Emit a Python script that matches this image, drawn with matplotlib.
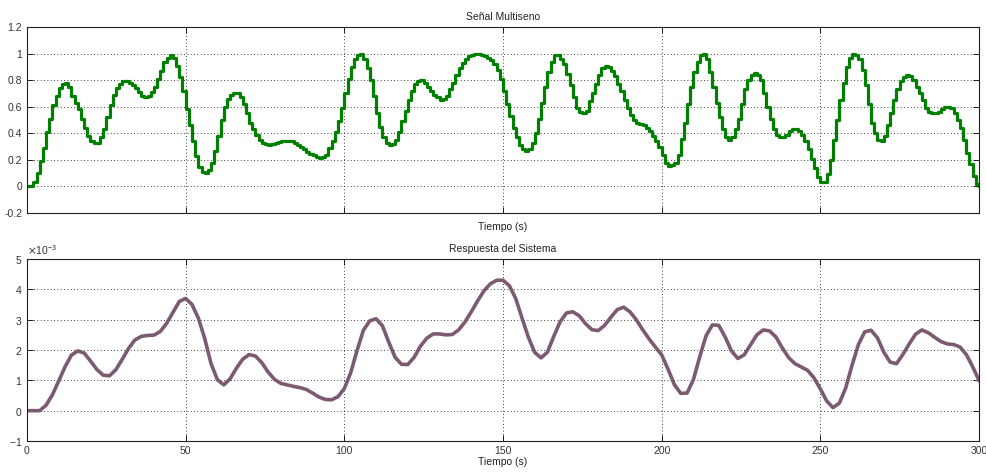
import numpy as np
import matplotlib
matplotlib.use("Agg")
import matplotlib.pyplot as plt
from matplotlib.ticker import ScalarFormatter, FormatStrFormatter

# ---- data ----
# Multisine input, sampled every 1 s (t = 0..300), zero-order hold
u_signal = [
    0.00, 0.00, 0.03, 0.10, 0.19, 0.29, 0.41, 0.51, 0.61, 0.68,
    0.74, 0.77, 0.78, 0.75, 0.68, 0.63, 0.58, 0.51, 0.44, 0.38,
    0.34, 0.325, 0.33, 0.37, 0.43, 0.52, 0.61, 0.69, 0.74, 0.77,
    0.79, 0.79, 0.78, 0.76, 0.74, 0.71, 0.68, 0.67, 0.68, 0.71,
    0.75, 0.81, 0.87, 0.94, 0.97, 0.99, 0.97, 0.91, 0.82, 0.72,
    0.58, 0.46, 0.34, 0.23, 0.15, 0.11, 0.10, 0.12, 0.18, 0.27,
    0.38, 0.50, 0.60, 0.66, 0.69, 0.70, 0.70, 0.67, 0.62, 0.55,
    0.48, 0.43, 0.39, 0.35, 0.33, 0.32, 0.315, 0.32, 0.33, 0.335,
    0.34, 0.345, 0.345, 0.34, 0.33, 0.315, 0.30, 0.28, 0.26, 0.245,
    0.235, 0.22, 0.215, 0.22, 0.24, 0.29, 0.34, 0.41, 0.49, 0.59,
    0.70, 0.81, 0.90, 0.96, 0.99, 1.00, 0.96, 0.89, 0.80, 0.68,
    0.55, 0.45, 0.37, 0.33, 0.31, 0.32, 0.35, 0.41, 0.49, 0.57,
    0.65, 0.72, 0.77, 0.79, 0.80, 0.78, 0.75, 0.72, 0.69, 0.67,
    0.65, 0.66, 0.68, 0.73, 0.78, 0.84, 0.89, 0.93, 0.96, 0.98,
    0.99, 1.00, 1.00, 0.99, 0.98, 0.97, 0.95, 0.92, 0.88, 0.81,
    0.72, 0.62, 0.53, 0.44, 0.37, 0.31, 0.28, 0.27, 0.28, 0.33,
    0.40, 0.51, 0.63, 0.75, 0.86, 0.94, 0.99, 0.99, 0.96, 0.92,
    0.85, 0.76, 0.67, 0.59, 0.56, 0.55, 0.57, 0.64, 0.70, 0.77,
    0.84, 0.89, 0.91, 0.90, 0.87, 0.83, 0.77, 0.72, 0.65, 0.59,
    0.54, 0.50, 0.48, 0.47, 0.46, 0.44, 0.42, 0.38, 0.34, 0.30,
    0.24, 0.18, 0.155, 0.16, 0.18, 0.24, 0.36, 0.48, 0.62, 0.75,
    0.86, 0.94, 0.99, 1.00, 0.96, 0.86, 0.75, 0.63, 0.52, 0.43,
    0.37, 0.35, 0.37, 0.43, 0.51, 0.62, 0.73, 0.80, 0.84, 0.855,
    0.84, 0.80, 0.70, 0.60, 0.51, 0.43, 0.39, 0.37, 0.37, 0.39,
    0.42, 0.435, 0.43, 0.42, 0.39, 0.34, 0.28, 0.21, 0.14, 0.07,
    0.03, 0.03, 0.09, 0.20, 0.35, 0.50, 0.65, 0.78, 0.90, 0.97,
    1.00, 0.99, 0.96, 0.88, 0.76, 0.62, 0.48, 0.40, 0.35, 0.34,
    0.38, 0.46, 0.55, 0.65, 0.73, 0.79, 0.82, 0.835, 0.83, 0.80,
    0.75, 0.70, 0.65, 0.59, 0.56, 0.55, 0.55, 0.56, 0.58, 0.60,
    0.60, 0.59, 0.55, 0.50, 0.44, 0.35, 0.25, 0.17, 0.08, 0.02,
    0.00,
]

# System response (x 1e-3), sampled every 2 s (t = 0..300)
y_resp_e3 = [
    0.00, 0.00, 0.00, 0.18, 0.52, 0.98, 1.45, 1.83, 1.97, 1.90,
    1.64, 1.36, 1.17, 1.15, 1.35, 1.69, 2.05, 2.33, 2.45, 2.48,
    2.49, 2.61, 2.88, 3.24, 3.60, 3.70, 3.50, 3.05, 2.38, 1.55,
    1.02, 0.85, 1.05, 1.40, 1.70, 1.85, 1.80, 1.58, 1.27, 1.03,
    0.90, 0.85, 0.80, 0.76, 0.70, 0.58, 0.45, 0.37, 0.36, 0.46,
    0.73, 1.25, 1.98, 2.65, 2.96, 3.03, 2.80, 2.26, 1.76, 1.53,
    1.52, 1.76, 2.13, 2.39, 2.53, 2.53, 2.50, 2.51, 2.66, 2.92,
    3.26, 3.62, 3.95, 4.18, 4.30, 4.30, 4.12, 3.70, 3.05, 2.42,
    1.92, 1.74, 1.93, 2.45, 2.93, 3.22, 3.26, 3.13, 2.87, 2.67,
    2.64, 2.81, 3.08, 3.33, 3.41, 3.26, 3.00, 2.67, 2.37, 2.10,
    1.84, 1.37, 0.86, 0.57, 0.58, 1.02, 1.78, 2.47, 2.83, 2.81,
    2.43, 1.97, 1.72, 1.84, 2.17, 2.50, 2.66, 2.63, 2.43, 2.07,
    1.75, 1.55, 1.44, 1.33, 1.08, 0.72, 0.32, 0.10, 0.25, 0.75,
    1.50, 2.18, 2.60, 2.65, 2.40, 1.93, 1.60, 1.55, 1.85, 2.20,
    2.52, 2.66, 2.57, 2.42, 2.28, 2.20, 2.18, 2.10, 1.85, 1.45,
    1.00,
]

t_signal = np.arange(len(u_signal)) * 1.0
t_resp = np.arange(len(y_resp_e3)) * 2.0
y_resp = np.array(y_resp_e3) * 1e-3

top_title = "Señal Multiseno"
bot_title = "Respuesta del Sistema"
x_label = "Tiempo (s)"
x_ticks = [0, 50, 100, 150, 200, 250, 300]
top_yticks = [-0.2, 0, 0.2, 0.4, 0.6, 0.8, 1, 1.2]
bot_yticks = [-1e-3, 0, 1e-3, 2e-3, 3e-3, 4e-3, 5e-3]

# ---- figure ----
plt.rcParams['font.family'] = ['Liberation Sans', 'DejaVu Sans']
fig = plt.figure(figsize=(9.87, 4.72), dpi=100)
ax1 = fig.add_axes([27/987, 1-213/472, (979-27)/987, (213-27)/472])
ax2 = fig.add_axes([27/987, 1-441/472, (979-27)/987, (441-259)/472])

fs = 7.5
tick_col = '#333333'

def style(ax):
    ax.grid(True, linestyle=(0, (1, 3)), color='black', linewidth=0.6)
    ax.tick_params(direction='in', top=True, right=True, labelsize=fs,
                   colors='black', labelcolor=tick_col, length=4, width=0.6)
    for s in ax.spines.values():
        s.set_linewidth(0.8)
        s.set_color('#222222')

ax1.step(t_signal, u_signal, where='post', color='#008000', linewidth=2.3)
ax1.set_xlim(0, 300)
ax1.set_ylim(-0.2, 1.2)
ax1.set_xticks(x_ticks)
ax1.set_xticklabels([])
ax1.set_yticks(top_yticks)
ax1.yaxis.set_major_formatter(FormatStrFormatter('%g'))
ax1.set_title(top_title, fontsize=fs, pad=5, color='#222222')
ax1.set_xlabel(x_label, fontsize=fs, labelpad=3, color='#222222')
style(ax1)

ax2.plot(t_resp, y_resp, color='#7B5A72', linewidth=2.6)
ax2.set_xlim(0, 300)
ax2.set_ylim(-1e-3, 5e-3)
ax2.set_xticks(x_ticks)
ax2.set_yticks(bot_yticks)
fmt = ScalarFormatter(useMathText=True)
fmt.set_powerlimits((-2, 2))
ax2.yaxis.set_major_formatter(fmt)
ax2.yaxis.get_offset_text().set_fontsize(fs)
ax2.set_title(bot_title, fontsize=fs, pad=5, color='#222222')
ax2.set_xlabel(x_label, fontsize=fs, labelpad=1, color='#222222')
style(ax2)

fig.savefig("out.png", dpi=100)
